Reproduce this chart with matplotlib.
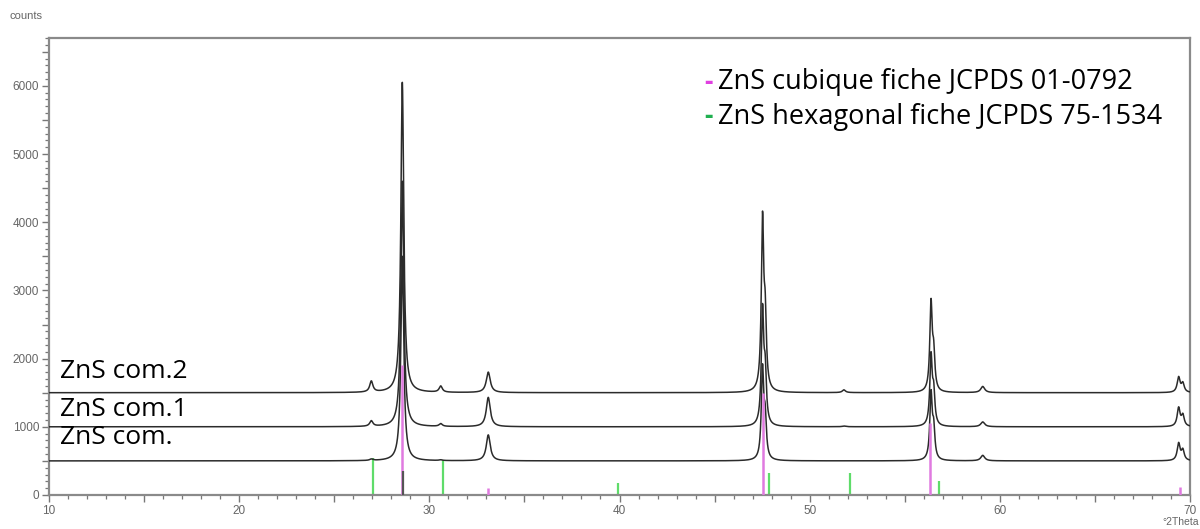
import numpy as np
import matplotlib
matplotlib.use("Agg")
import matplotlib.pyplot as plt
from matplotlib.ticker import MultipleLocator, FuncFormatter

# ---------------- data ----------------
series_names = ["ZnS com.", "ZnS com.1", "ZnS com.2"]
series_offsets = [500, 1000, 1500]

# diffraction peaks (2theta) and heights above baseline for each sample
peak_pos = [26.95, 28.58, 30.60, 33.10, 47.52, 47.66, 51.80, 56.38, 56.52, 59.10, 69.40, 69.62]
peak_fwhm = [0.20, 0.18, 0.20, 0.25, 0.15, 0.15, 0.20, 0.15, 0.15, 0.25, 0.18, 0.18]
heights_com = [20, 3000, 10, 380, 1300, 550, 0, 950, 420, 80, 250, 150]
heights_com1 = [80, 3600, 40, 430, 1650, 700, 10, 1000, 450, 70, 270, 160]
heights_com2 = [160, 4550, 90, 300, 2450, 950, 40, 1270, 500, 90, 220, 130]

# reference stick patterns
cubic_pos = [28.56, 33.10, 47.52, 56.33, 69.45]
cubic_int = [1900, 100, 1500, 1050, 110]
hex_pos = [27.05, 30.70, 39.90, 47.84, 52.10, 56.80]
hex_int = [540, 510, 175, 320, 320, 200]

legend_texts = ["ZnS cubique fiche JCPDS 01-0792", "ZnS hexagonal fiche JCPDS 75-1534"]

# ---------------- figure ----------------
fig = plt.figure(figsize=(12, 5.29), dpi=100)
ax = fig.add_axes([0.0408, 0.0643, 0.9509, 0.8637])

x = np.linspace(10, 70, 12001)

def pattern(heights):
    y = np.zeros_like(x)
    for c, w, h in zip(peak_pos, peak_fwhm, heights):
        y += h / (1 + ((x - c) / (w / 2)) ** 2)
    return y

trace_color = "#2b2b2b"
for name, off, hts in zip(series_names, series_offsets,
                          [heights_com, heights_com1, heights_com2]):
    ax.plot(x, off + pattern(hts), color=trace_color, lw=1.1, zorder=3)

ax.vlines(hex_pos, 0, hex_int, color="#5fdc6a", lw=1.6, zorder=2)
ax.vlines(cubic_pos, 0, cubic_int, color="#e07ae0", lw=1.8, zorder=4)
ax.vlines([28.62], 0, 350, color="#555555", lw=1.6, zorder=5)

ax.set_xlim(10, 70)
ax.set_ylim(0, 6700)

# ticks
ax.xaxis.set_major_locator(MultipleLocator(5))
ax.xaxis.set_minor_locator(MultipleLocator(1))
ax.yaxis.set_major_locator(MultipleLocator(500))
ax.yaxis.set_minor_locator(MultipleLocator(100))
ax.xaxis.set_major_formatter(FuncFormatter(lambda v, p: f"{int(v)}" if v % 10 == 0 else ""))
ax.yaxis.set_major_formatter(FuncFormatter(lambda v, p: f"{int(v)}" if v % 1000 == 0 else ""))
ax.tick_params(axis="both", which="major", length=5, width=1.0, color="#777777",
               labelsize=8.5, labelcolor="#666666", pad=2)
ax.tick_params(axis="both", which="minor", length=3, width=0.9, color="#777777")
for lab in ax.get_xticklabels() + ax.get_yticklabels():
    lab.set_family("Liberation Sans")

for s in ax.spines.values():
    s.set_color("#8a8a8a")
    s.set_linewidth(1.6)

# axis titles
fig.text(10 / 1200, 1 - 16 / 529, "counts", fontsize=8, color="#666666",
         family="Liberation Sans", va="center", ha="left")
fig.text(1199 / 1200, 1 - 522 / 529, "°2Theta", fontsize=7.5, color="#666666",
         family="Liberation Sans", va="center", ha="right")

# sample labels
label_y = [437, 410, 371]
for name, yy in zip(series_names, label_y):
    fig.text(60 / 1200, 1 - yy / 529, name, fontsize=19, color="black",
             family="Open Sans", va="center", ha="left")

# legend
leg_colors = ["#e040e0", "#20b050"]
leg_y = [82, 117]
for txt, col, yy in zip(legend_texts, leg_colors, leg_y):
    fig.text(704 / 1200, 1 - yy / 529, "-", fontsize=19, color=col,
             family="Open Sans", va="center", ha="left", fontweight="bold")
    fig.text(718 / 1200, 1 - yy / 529, txt, fontsize=19.5, color="black",
             family="Open Sans", va="center", ha="left")

fig.savefig("out.png", dpi=100)
